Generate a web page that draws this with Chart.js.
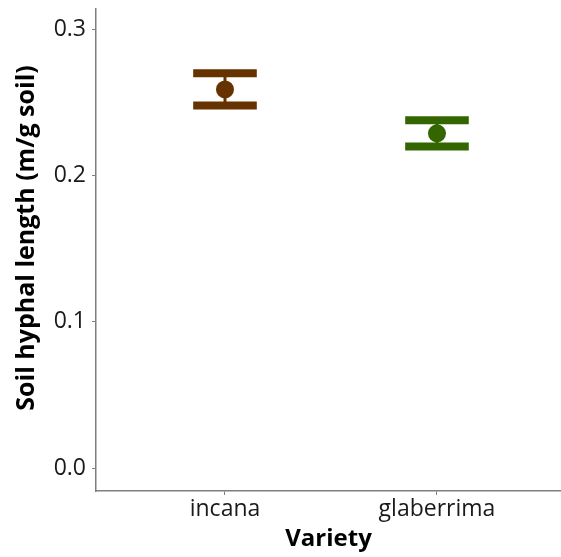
<!DOCTYPE html>
<html>
<head>
<meta charset="utf-8">
<script src="https://cdn.jsdelivr.net/npm/chart.js@4"></script>
<style>
  html, body { margin: 0; padding: 0; background: #fff; }
  #wrap { width: 561px; height: 557px; }
</style>
</head>
<body>
<div id="wrap"><canvas id="chart" width="561" height="557"></canvas></div>
<script>
// data
const varieties = ['incana', 'glaberrima'];
const means = [0.259, 0.229];
const upper = [0.270, 0.238];
const lower = [0.248, 0.220];
const colors = ['#663300', '#336600'];
const yTicks = [0.0, 0.1, 0.2, 0.3];
const yTitle = 'Soil hyphal length (m/g soil)';

// error bars with caps, drawn behind the points
const errorBars = {
  id: 'errorBars',
  beforeDatasetsDraw(chart) {
    const { ctx, scales: { x, y } } = chart;
    ctx.save();
    varieties.forEach((v, i) => {
      const px = x.getPixelForValue(i + 1);
      const half = (x.getPixelForValue(i + 1.15) - px);
      const yt = y.getPixelForValue(upper[i]);
      const yb = y.getPixelForValue(lower[i]);
      ctx.strokeStyle = colors[i];
      ctx.lineWidth = 3;
      ctx.beginPath();
      ctx.moveTo(px, yt);
      ctx.lineTo(px, yb);
      ctx.stroke();
      ctx.lineWidth = 8;
      ctx.beginPath();
      ctx.moveTo(px - half, yt);
      ctx.lineTo(px + half, yt);
      ctx.moveTo(px - half, yb);
      ctx.lineTo(px + half, yb);
      ctx.stroke();
    });
    ctx.restore();
  }
};

// y title sits a bit above the centre of the axis in the original
const yTitlePlugin = {
  id: 'yTitle',
  afterDraw(chart) {
    const { ctx, chartArea } = chart;
    ctx.save();
    ctx.translate(27, (chartArea.top + chartArea.bottom) / 2 - 12);
    ctx.rotate(-Math.PI / 2);
    ctx.font = 'bold 25px "Open Sans"';
    ctx.fillStyle = '#000';
    ctx.textAlign = 'center';
    ctx.textBaseline = 'middle';
    ctx.fillText(yTitle, 0, 0);
    ctx.restore();
  }
};

// the panel runs right up to the canvas edge
const fullRight = {
  id: 'fullRight',
  afterLayout(chart) {
    const x = chart.scales.x;
    x.right = chart.width;
    x.width = x.right - x.left;
    chart.chartArea.right = x.right;
    chart.chartArea.width = x.right - chart.chartArea.left;
    x.configure();
  }
};

const noPad = s => { s.paddingTop = 0; s.paddingBottom = 0; s.paddingLeft = 0; s.paddingRight = 0; };

new Chart(document.getElementById('chart'), {
  type: 'scatter',
  data: {
    datasets: [{
      data: means.map((m, i) => ({ x: i + 1, y: m })),
      pointRadius: 9,
      pointHoverRadius: 9,
      pointBackgroundColor: colors,
      pointBorderColor: colors,
      pointBorderWidth: 0
    }]
  },
  options: {
    responsive: false,
    animation: false,
    layout: { padding: { top: 6, right: 0 } },
    plugins: { legend: { display: false }, tooltip: { enabled: false } },
    scales: {
      x: {
        type: 'linear',
        min: 0.3915,
        max: 2.585,
        afterBuildTicks: s => { s.ticks = varieties.map((v, i) => ({ value: i + 1 })); },
        afterFit: s => { s.height = 66; noPad(s); },
        ticks: {
          callback: v => varieties[v - 1],
          color: '#1a1a1a',
          font: { family: 'Open Sans', size: 23 },
          padding: 1,
          maxRotation: 0
        },
        grid: { drawOnChartArea: false, tickLength: 4, color: '#7f7f7f' },
        border: { color: '#7f7f7f', width: 1.5 },
        title: {
          display: true,
          text: 'Variety',
          color: '#000',
          font: { family: 'Open Sans', size: 24, weight: 'bold' },
          padding: { top: 0, bottom: 3 }
        }
      },
      y: {
        min: -0.0156,
        max: 0.314,
        afterBuildTicks: s => { s.ticks = yTicks.map(v => ({ value: v })); },
        afterFit: s => { s.width = 96; noPad(s); },
        ticks: {
          callback: v => v.toFixed(1),
          color: '#1a1a1a',
          font: { family: 'Open Sans', size: 23 },
          padding: 6
        },
        grid: { drawOnChartArea: false, tickLength: 4, color: '#7f7f7f' },
        border: { color: '#7f7f7f', width: 1.5 },
        title: { display: false }
      }
    }
  },
  plugins: [fullRight, errorBars, yTitlePlugin]
});
</script>
</body>
</html>
